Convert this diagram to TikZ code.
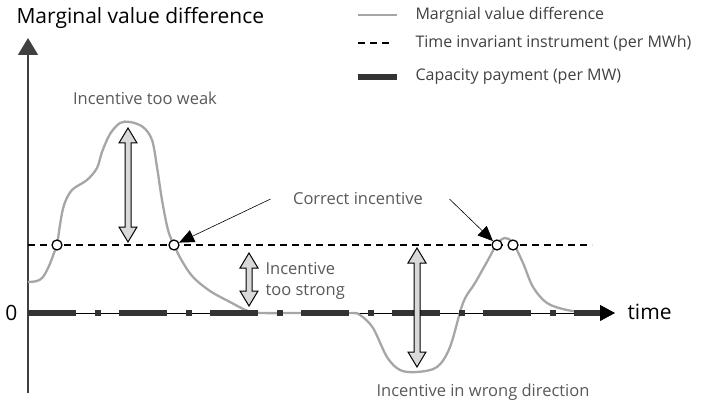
\documentclass[tikz,border=0pt]{standalone}
\usepackage{fontspec}
\setmainfont{Open Sans}
\usetikzlibrary{arrows.meta, positioning}
\definecolor{curvegray}{HTML}{A6A6A6}
\definecolor{arrfill}{HTML}{D9D9D9}
\definecolor{labgray}{HTML}{595959}
\definecolor{leggray}{HTML}{404040}
\newcommand{\dblarrow}[3]{% x, top tip, bottom tip
  \draw[blockarr] (#1-3,#2+15) -- (#1-9,#2+15) -- (#1,#2) -- (#1+9,#2+15) -- (#1+3,#2+15)
    -- (#1+3,#3-15) -- (#1+9,#3-15) -- (#1,#3) -- (#1-9,#3-15) -- (#1-3,#3-15) -- cycle;}

\begin{document}
\begin{tikzpicture}[x=1pt,y=-1pt,
    valcurve/.style={curvegray, line width=2.3pt},
    invline/.style={line width=1.3pt, dash pattern=on 7pt off 5pt},
    capline/.style={black!80, line width=6.5pt, dash pattern=on 48pt off 19pt on 6pt off 18pt},
    blockarr/.style={draw=black, fill=arrfill, line width=1pt, line join=miter},
    crossing/.style={circle, draw, fill=white, line width=1.3pt, inner sep=0pt, minimum size=10pt},
    callout/.style={-{Triangle[length=15pt,width=13pt]}, line width=0.6pt},
    big/.style={font=\fontsize{21}{25}\selectfont},
    lab/.style={text=labgray, font=\fontsize{16.5}{20.5}\selectfont},
    legtext/.style={text=leggray, anchor=west, font=\fontsize{16}{19}\selectfont}]
    \useasboundingbox (0,0) rectangle (711,406);

    \coordinate (o)      at (28,313);
    \coordinate (ytop)   at (28,38);
    \coordinate (ybot)   at (28,393);
    \coordinate (xend)   at (615,313);
    \coordinate (capend) at (600,313);
    \coordinate (dstart) at (28,245);
    \coordinate (dend)   at (592,245);

    \node[big, anchor=west]           (title)  at (13,18)    {Marginal value difference};
    \node[big, anchor=east]           (zero)   at (21,313)   {0};
    \node[big, anchor=west]           (time)   at (624,312)  {time};

    \draw[black!75, line width=1.5pt, -{Triangle[length=17pt,width=20pt]}] (ybot) -- (ytop);
    \draw[line width=0.8pt, -{Triangle[length=15pt,width=16pt]}] (o) -- (xend);
    \draw[invline] (dstart) -- (dend);
    \draw[valcurve] plot[smooth, tension=0.55] coordinates {
        (28,282) (37,281) (43,277) (49,266) (54,253) (57,245) (60,225) (64,205)
        (72,190) (87,180) (97,168) (102,152) (110,134) (120,123) (130,122)
        (143,127) (152,140) (157,167) (162,200) (168,230) (174,245) (182,261)
        (193,277) (210,291) (230,302) (248,311) (262,313) (300,313) (350,313) (360,315)
        (373,328) (387,357) (400,370) (417,372) (437,367) (450,347) (463,303)
        (475,283) (488,260) (497,244) (505,238) (513,243) (523,263) (533,287)
        (547,303) (567,310) (590,313)};
    \draw[capline] (o) -- (capend);

    \dblarrow{128}{128}{242}
    \dblarrow{249}{253}{306}
    \dblarrow{417}{248}{367}

    \node[crossing] (c_1) at (57,245)  {};
    \node[crossing] (c_2) at (174,245) {};
    \node[crossing] (c_3) at (497,245) {};
    \node[crossing] (c_4) at (513,245) {};

    \node[lab]                        (weak)    at (145,98)  {Incentive too weak};
    \node[lab, align=left, anchor=west] (strong) at (262,281) {Incentive\\too strong};
    \node[lab]                        (wrong)   at (483,392) {Incentive in wrong direction};
    \node[lab]                        (correct) at (358,199) {Correct incentive};

    \draw[callout] ([xshift=-19pt]correct.west) -- (c_2);
    \draw[callout] ([xshift=23pt]correct.east) -- (c_3);

    \draw[valcurve]          (358,15) -- (397,15);
    \draw[invline]           (358,43) -- (393,43);
    \draw[capline, solid]    (358,77) -- (397,77);
    \node[legtext] (l_1) at (412,15) {Margnial value difference};
    \node[legtext] (l_2) at (412,43) {Time invariant instrument (per MWh)};
    \node[legtext] (l_3) at (412,77) {Capacity payment (per MW)};
\end{tikzpicture}
\end{document}
